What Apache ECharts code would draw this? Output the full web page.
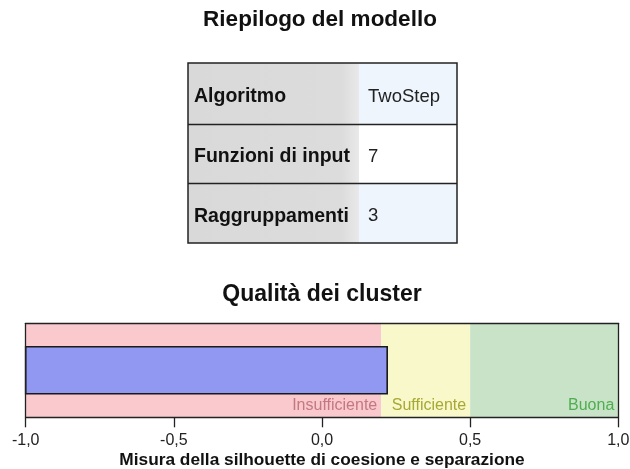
<!DOCTYPE html>
<html>
<head>
<meta charset="utf-8">
<script src="https://cdn.jsdelivr.net/npm/echarts@6/dist/echarts.min.js"></script>
<style>
html,body{margin:0;padding:0;background:#fff;}
#c{width:630px;height:469px;}
</style>
</head>
<body>
<div id="c"></div>
<script>
// ---- data ----
var mainTitle = 'Riepilogo del modello';
var chartTitle = 'Qualità dei cluster';
var tableLabels = ['Algoritmo', 'Funzioni di input', 'Raggruppamenti'];
var tableValues = ['TwoStep', '7', '3'];
var bandNames = ['Insufficiente', 'Sufficiente', 'Buona'];
var bandStarts = [-1.0, 0.2, 0.5];
var bandEnds = [0.2, 0.5, 1.0];
var silhouetteValue = [0.22];
var xTicks = [-1.0, -0.5, 0.0, 0.5, 1.0];
var axisName = 'Misura della silhouette di coesione e separazione';

// ---- styles ----
var FONT = '"Liberation Sans", Arial, sans-serif';
var bandFill = ['#f9c9cd', '#f8f8ca', '#c9e3c9'];
var bandText = ['#c47880', '#a8a834', '#4fae4f'];

var chart = echarts.init(document.getElementById('c'), null, {renderer: 'canvas'});

// table graphic
var tX = 188, tY = 63, tW = 269, colW = 171;
var rowYs = [63, 124.5, 183.5, 243];
var rowFill = ['#eef5fd', '#ffffff', '#eef5fd'];
var tableEls = [];
tableEls.push({type: 'rect', shape: {x: tX, y: tY, width: colW, height: rowYs[3] - tY},
  style: {fill: new echarts.graphic.LinearGradient(0, 0, 1, 0, [
    {offset: 0, color: '#d9d9d9'}, {offset: 0.9, color: '#dcdcdc'}, {offset: 1, color: '#e9e9e9'}])}});
for (var i = 0; i < tableLabels.length; i++) {
  var y0 = rowYs[i], y1 = rowYs[i + 1], cy = (y0 + y1) / 2 + 3;
  tableEls.push({type: 'rect', shape: {x: tX + colW, y: y0, width: tW - colW, height: y1 - y0}, style: {fill: rowFill[i]}});
  tableEls.push({type: 'text', x: 194, y: cy, style: {text: tableLabels[i], font: 'bold 19.5px ' + FONT, fill: '#111', textAlign: 'left', textVerticalAlign: 'middle'}});
  tableEls.push({type: 'text', x: 368, y: cy, style: {text: tableValues[i], font: '18.5px ' + FONT, fill: '#222', textAlign: 'left', textVerticalAlign: 'middle'}});
}
for (var j = 1; j < 3; j++) {
  tableEls.push({type: 'line', shape: {x1: tX, y1: rowYs[j], x2: tX + tW, y2: rowYs[j]}, style: {stroke: '#222', lineWidth: 1.3}});
}
tableEls.push({type: 'rect', shape: {x: tX, y: tY, width: tW, height: rowYs[3] - tY}, style: {fill: null, stroke: '#222', lineWidth: 1.5}});

var bandData = bandStarts.map(function (s, k) { return [s, bandEnds[k], 0, k]; });

var option = {
  animation: false,
  backgroundColor: '#ffffff',
  graphic: [
    {type: 'text', x: 320, y: 20, style: {text: mainTitle, font: 'bold 22.5px ' + FONT, fill: '#111', textAlign: 'center', textVerticalAlign: 'middle'}},
    {type: 'text', x: 322, y: 295, style: {text: chartTitle, font: 'bold 23px ' + FONT, fill: '#111', textAlign: 'center', textVerticalAlign: 'middle'}},
    {type: 'group', children: tableEls}
  ],
  grid: {left: 25.7, right: 11.7, top: 323.3, height: 94, containLabel: false, outerBoundsMode: 'none'},
  xAxis: [{
    type: 'value', min: -1, max: 1, interval: 0.5, z: 10,
    axisLine: {show: true, onZero: false, lineStyle: {color: '#222', width: 1.3}},
    axisTick: {show: true, length: 10, lineStyle: {color: '#222', width: 1.3}},
    splitLine: {show: false},
    axisLabel: {color: '#222', fontSize: 16, fontFamily: FONT, margin: 15,
      formatter: function (v) { return v.toFixed(1).replace('.', ','); }},
    name: axisName, nameLocation: 'middle', nameGap: 34,
    nameTextStyle: {fontSize: 17.3, fontWeight: 'bold', fontFamily: FONT, color: '#111'}
  }, {
    type: 'value', position: 'top', min: -1, max: 1, z: 10,
    axisLine: {show: true, onZero: false, lineStyle: {color: '#222', width: 1.3}},
    axisTick: {show: false}, axisLabel: {show: false}, splitLine: {show: false}
  }],
  yAxis: [{
    type: 'category', data: [''], z: 10, position: 'left',
    axisLine: {show: true, onZero: false, lineStyle: {color: '#222', width: 1.3}},
    axisTick: {show: false}, axisLabel: {show: false}, splitLine: {show: false}
  }, {
    type: 'category', data: [''], position: 'right', z: 10,
    axisLine: {show: true, onZero: false, lineStyle: {color: '#222', width: 1.3}},
    axisTick: {show: false}, axisLabel: {show: false}, splitLine: {show: false}
  }],
  series: [{
    type: 'custom', name: 'bands', xAxisIndex: 0, yAxisIndex: 0, z: 1,
    encode: {x: [0, 1], y: 2},
    data: bandData,
    renderItem: function (params, api) {
      var cs = params.coordSys;
      var a = api.coord([api.value(0), 0]);
      var b = api.coord([api.value(1), 0]);
      var k = api.value(3);
      return {type: 'group', children: [
        {type: 'rect', shape: {x: a[0], y: cs.y, width: b[0] - a[0], height: cs.height}, style: {fill: bandFill[k]}},
        {type: 'text', x: b[0] - 4, y: cs.y + cs.height - 12,
          style: {text: bandNames[k], font: '16px ' + FONT, fill: bandText[k], textAlign: 'right', textVerticalAlign: 'middle'}}
      ]};
    }
  }, {
    type: 'custom', name: 'silhouette', xAxisIndex: 0, yAxisIndex: 0, z: 3,
    encode: {x: 0, y: 1},
    data: silhouetteValue.map(function (v) { return [v, 0]; }),
    renderItem: function (params, api) {
      var s = api.coord([xTicks[0], api.value(1)]);
      var e = api.coord([api.value(0), api.value(1)]);
      var h = api.size([0, 1])[1] * 0.5;
      return {type: 'rect', shape: {x: s[0], y: s[1] - h / 2, width: e[0] - s[0], height: h},
        style: {fill: '#9098f1', stroke: '#1a1a1a', lineWidth: 1.6}};
    }
  }]
};
chart.setOption(option);
</script>
</body>
</html>
